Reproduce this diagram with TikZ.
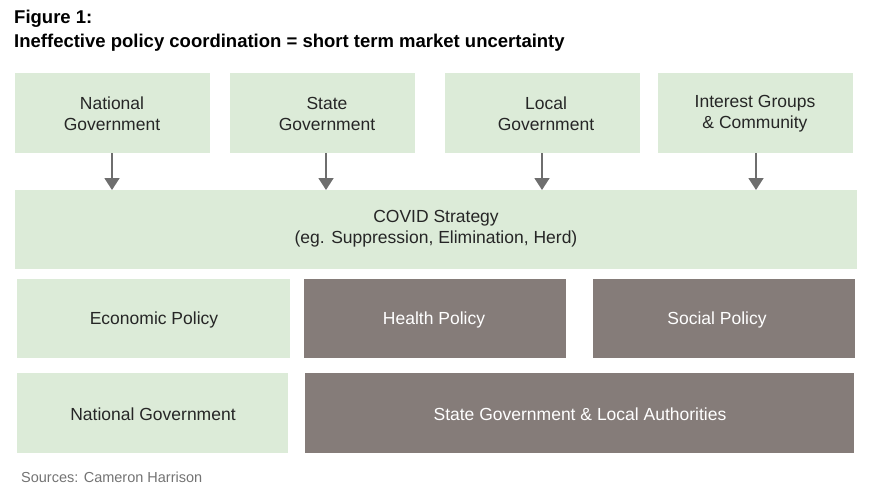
\documentclass[tikz,border=0pt]{standalone}
\usepackage{fontspec}
\setmainfont{Liberation Sans}
\usetikzlibrary{arrows.meta}
\definecolor{lg}{HTML}{DCEBD8}
\definecolor{dg}{HTML}{857C79}
\definecolor{ar}{HTML}{6E6E6E}
\begin{document}
\begin{tikzpicture}[x=1pt,y=-1pt,
  gb/.style={fill=lg,draw=none},
  db/.style={fill=dg,draw=none},
  lab/.style={font=\fontsize{17.5}{21}\selectfont,align=center,text=black!85},
  wlab/.style={font=\fontsize{17.5}{21}\selectfont,align=center,text=white},
  arr/.style={ar,line width=1.8pt,-{Triangle[length=12pt,width=15pt]}}]
\useasboundingbox (0,0) rectangle (871,498);
\node[anchor=west,inner sep=0pt,font=\bfseries\fontsize{18.5}{22}\selectfont] (t1) at (14,19) {Figure 1:};
\node[anchor=west,inner sep=0pt,font=\bfseries\fontsize{18.5}{22}\selectfont] (t2) at (14,43) {Ineffective policy coordination = short term market uncertainty};
\fill[gb] (15,73) rectangle (210,153);
\fill[gb] (230,73) rectangle (415,153);
\fill[gb] (445,73) rectangle (640,153);
\fill[gb] (658,73) rectangle (853,153);
\node[lab] (n1) at (112,114) {National\\Government};
\node[lab] (n2) at (327,114) {State\\Government};
\node[lab] (n3) at (546,114) {Local\\Government};
\node[lab] (n4) at (755,114) {Interest Groups\\\& Community};
\fill[gb] (15,190) rectangle (857,269);
\node[lab] (cv) at (436,229) {COVID Strategy\\(eg. Suppression, Elimination, Herd)};
\coordinate (s1) at (112,153); \coordinate (e1) at (112,190);
\coordinate (s2) at (326,153); \coordinate (e2) at (326,190);
\coordinate (s3) at (542,153); \coordinate (e3) at (542,190);
\coordinate (s4) at (756,153); \coordinate (e4) at (756,190);
\draw[arr] (s1)--(e1); \draw[arr] (s2)--(e2); \draw[arr] (s3)--(e3); \draw[arr] (s4)--(e4);
\fill[gb] (17,279) rectangle (290,358);
\fill[db] (304,279) rectangle (566,358);
\fill[db] (593,279) rectangle (855,358);
\node[lab] (ep) at (154,320) {Economic Policy};
\node[wlab] (hp) at (434,320) {Health Policy};
\node[wlab] (sp) at (717,320) {Social Policy};
\fill[gb] (17,373) rectangle (288,453);
\fill[db] (305,373) rectangle (854,453);
\node[lab] (ng) at (153,414) {National Government};
\node[wlab] (sg) at (580,414) {State Government \& Local Authorities};
\node[anchor=west,inner sep=0pt,font=\fontsize{14.5}{17}\selectfont,text=black!55] (src) at (21,477) {Sources: Cameron Harrison};
\end{tikzpicture}
\end{document}
